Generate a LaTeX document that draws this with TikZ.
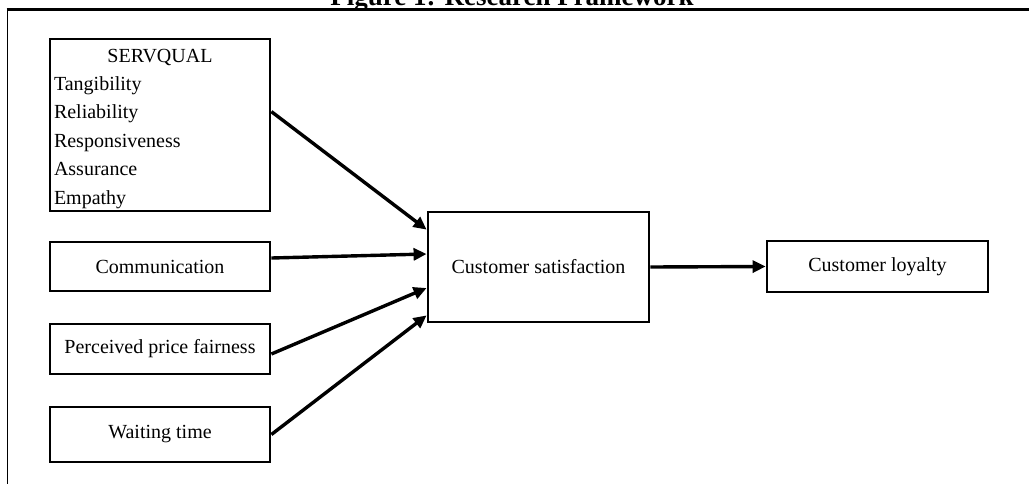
\documentclass[tikz,border=0pt]{standalone}
\usepackage{fontspec}
\setmainfont{Liberation Serif}
\usetikzlibrary{arrows.meta}

\begin{document}
\begin{tikzpicture}[x=1pt,y=-1pt]
\tikzset{block/.style = {shape=rectangle,draw,line width=2.8pt,
	minimum width=220pt,inner xsep=4pt,
	font=\fontsize{20}{28.4}\selectfont}}
\tikzset{edge/.style = {-{Triangle[length=13pt,width=12pt]},line width=3.4pt}}
\useasboundingbox (0,0) rectangle (1029,483);
% frame and caption
\draw[line width=0.9pt] (7,490) -- (7,9.5);
\draw[line width=2.2pt] (6.6,9.5) -- (1040,9.5);
\node[font=\bfseries\fontsize{27}{30}\selectfont,anchor=base] (title) at (512,5.5) {Figure 1: Research Framework};

% boxes
\node[block,text width=212pt,align=left,inner ysep=0pt,
	text height=23pt,text depth=149pt] (servqual) at (160,125)
	{\makebox[212pt]{SERVQUAL}\\Tangibility\\Reliability\\Responsiveness\\Assurance\\Empathy};
\node[block,minimum height=49pt] (comm) at (160,266.5) {Communication};
\node[block,minimum height=50pt] (price) at (160,349) {Perceived price fairness};
\node[block,minimum height=55pt] (wait) at (160,434.5) {Waiting time};
\node[block,minimum width=221pt,minimum height=110pt] (sat) at (538.5,267) {Customer satisfaction};
\node[block,minimum width=221pt,minimum height=51pt] (loyal) at (877.5,266.5) {Customer loyalty};

%arrows
\draw[edge] ([yshift=-74pt]servqual.north east) -- ([yshift=-19pt]sat.north west);
\draw[edge] ([yshift=8.5pt]comm.east) -- ([yshift=13pt]sat.west);
\draw[edge] ([yshift=-5pt]price.east) -- ([yshift=-21pt]sat.west);
\draw[edge] (wait.east) -- ([yshift=8pt]sat.south west);
\draw[edge] (sat.east) -- (loyal.west);
\end{tikzpicture}
\end{document}
